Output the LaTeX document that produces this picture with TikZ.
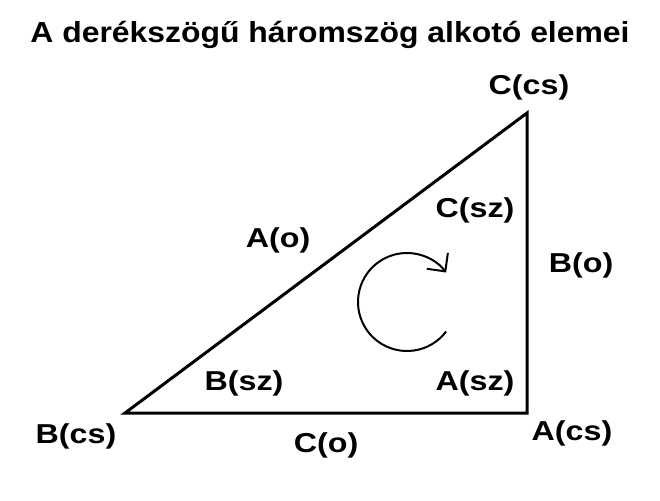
\documentclass[tikz,border=0pt]{standalone}
\usepackage{fontspec}
\setmainfont{Liberation Sans}
\newfontfamily\cimfont[FakeStretch=1.1]{Liberation Sans Bold}
\newfontfamily\feliratfont[FakeStretch=1.18]{Liberation Sans Bold}
\usetikzlibrary{calc,arrows.meta}

\begin{document}
\begin{tikzpicture}[x=0.75pt, y=-0.75pt,
    felirat/.style={font=\feliratfont\fontsize{20.5}{22}\selectfont, inner sep=0pt},
    oldal/.style={line width=2.25pt},
    forgas/.style={line width=1.5pt, -{Straight Barb[angle=90:14pt]}}]
  \useasboundingbox (0,0) rectangle (660,500);
  \node[font=\cimfont\fontsize{21.75}{24}\selectfont, inner sep=0pt] (cim) at (330,35) {A derékszögű háromszög alkotó elemei};
  % csucsok
  \coordinate (A) at (527,413);
  \coordinate (B) at (125,413);
  \coordinate (C) at (527,113);
  \draw[oldal] (B) -- (A) -- (C) -- cycle;
  % feliratok
  \node[felirat] (Acs) at (572,433) {A(cs)};
  \node[felirat] (Bcs) at (76,436) {B(cs)};
  \node[felirat] (Ccs) at (529,87) {C(cs)};
  \node[felirat] (Asz) at (475,383) {A(sz)};
  \node[felirat] (Bsz) at (244,383) {B(sz)};
  \node[felirat] (Csz) at (475,210) {C(sz)};
  \node[felirat] (Ao) at (278,240) {A(o)};
  \node[felirat] (Bo) at (581,265) {B(o)};
  \node[felirat] (Co) at (326,445) {C(o)};
  % forgasirany
  \coordinate (K) at (407,302);
  \draw[forgas] ($(K)+(37:49)$) arc[start angle=37, end angle=323, radius=49];
\end{tikzpicture}
\end{document}
